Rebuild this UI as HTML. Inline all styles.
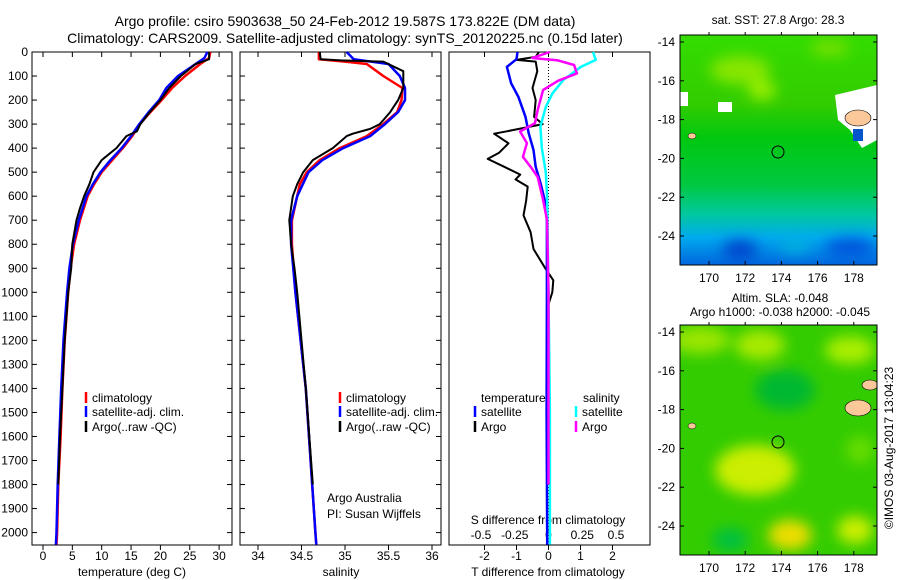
<!DOCTYPE html>
<html><head><meta charset="utf-8"><style>
body{margin:0;background:#fff;}
svg{display:block;font-family:"Liberation Sans",sans-serif;}
</style></head><body>
<svg id="chart" width="900" height="580" viewBox="0 0 900 580" xmlns="http://www.w3.org/2000/svg">
<defs>
<filter id="blur1" x="-50%" y="-50%" width="200%" height="200%"><feGaussianBlur stdDeviation="7"/></filter>
<clipPath id="clipMap1"><rect x="680" y="35" width="197" height="230"/></clipPath>
<clipPath id="clipMap2"><rect x="680" y="325" width="197" height="230"/></clipPath>
<linearGradient id="sstGrad" x1="0" y1="0" x2="0" y2="1">
<stop offset="0" stop-color="#33dd00"/><stop offset="0.3" stop-color="#33cc00"/>
<stop offset="0.45" stop-color="#00c810"/><stop offset="0.65" stop-color="#00c840"/>
<stop offset="0.78" stop-color="#00c8a0"/><stop offset="0.88" stop-color="#00aaee"/>
<stop offset="1" stop-color="#0066dd"/></linearGradient>
</defs>
<text x="345" y="26" text-anchor="middle" font-size="14">Argo profile: csiro 5903638_50 24-Feb-2012 19.587S 173.822E (DM data)</text>
<text x="345" y="43" text-anchor="middle" font-size="14">Climatology: CARS2009. Satellite-adjusted climatology: synTS_20120225.nc (0.15d later)</text>
<g id="plots"></g>
<g>
<text x="778" y="24" text-anchor="middle" font-size="12">sat. SST: 27.8 Argo: 28.3</text>
<g clip-path="url(#clipMap1)">
<rect x="680" y="35" width="197" height="230" fill="url(#sstGrad)"/>
<g filter="url(#blur1)">
<ellipse cx="740" cy="70" rx="30" ry="14" fill="#88e600"/>
<ellipse cx="762" cy="90" rx="14" ry="10" fill="#99ee00"/>
<ellipse cx="830" cy="48" rx="20" ry="8" fill="#77e000"/>
<ellipse cx="740" cy="250" rx="18" ry="10" fill="#0044cc"/>
<ellipse cx="850" cy="248" rx="25" ry="10" fill="#0055dd"/>
<ellipse cx="795" cy="245" rx="15" ry="8" fill="#00b0dd"/>
</g>
<rect x="680" y="92" width="8" height="14" fill="#fff"/>
<rect x="718" y="102" width="14" height="10" fill="#fff"/>
<path d="M835 95 L877 85 L877 140 L862 148 L850 130 L838 120 Z" fill="#fff"/>
<ellipse cx="858" cy="118" rx="13" ry="8" fill="#fbc89a" stroke="#000" stroke-width="0.6"/>
<rect x="853" y="129" width="10" height="12" fill="#0055cc"/>
<ellipse cx="692" cy="136" rx="4" ry="3" fill="#fbc89a" stroke="#000" stroke-width="0.5"/>
<circle cx="778" cy="152" r="6" fill="none" stroke="#000" stroke-width="1"/>
</g>
<rect x="680" y="35" width="197" height="230" fill="none" stroke="#000" stroke-width="1"/>
</g>
<g>
<text x="780" y="302" text-anchor="middle" font-size="12">Altim. SLA: -0.048</text>
<text x="780" y="316" text-anchor="middle" font-size="12">Argo h1000: -0.038 h2000: -0.045</text>
<g clip-path="url(#clipMap2)">
<rect x="680" y="325" width="197" height="230" fill="#33cc00"/>
<g filter="url(#blur1)">
<ellipse cx="700" cy="340" rx="30" ry="14" fill="#99e600"/>
<ellipse cx="760" cy="345" rx="25" ry="15" fill="#a8ea00"/>
<ellipse cx="850" cy="350" rx="25" ry="14" fill="#aaee00"/>
<ellipse cx="785" cy="390" rx="30" ry="20" fill="#00b830"/>
<ellipse cx="755" cy="470" rx="40" ry="25" fill="#ccee00"/>
<ellipse cx="790" cy="535" rx="22" ry="15" fill="#eedd00"/>
<ellipse cx="730" cy="540" rx="18" ry="12" fill="#00c040"/>
<ellipse cx="855" cy="530" rx="18" ry="14" fill="#ccee00"/>
<ellipse cx="860" cy="450" rx="14" ry="14" fill="#66dd00"/>
</g>
<ellipse cx="858" cy="408" rx="13" ry="8" fill="#fbc89a" stroke="#000" stroke-width="0.6"/>
<ellipse cx="870" cy="385" rx="8" ry="5" fill="#fbc89a" stroke="#000" stroke-width="0.6"/>
<ellipse cx="692" cy="426" rx="4" ry="3" fill="#fbc89a" stroke="#000" stroke-width="0.5"/>
<circle cx="778" cy="442" r="6" fill="none" stroke="#000" stroke-width="1"/>
</g>
<rect x="680" y="325" width="197" height="230" fill="none" stroke="#000" stroke-width="1"/>
</g>
<g id="maps-axes"></g>
<text transform="translate(893,448) rotate(-90)" text-anchor="middle" font-size="12">©IMOS 03-Aug-2017 13:04:23</text>
</svg>
<script>
const NS="http://www.w3.org/2000/svg";
const depthTicks=[0,100,200,300,400,500,600,700,800,900,1000,1100,1200,1300,1400,1500,1600,1700,1800,1900,2000];
const tempTicks=[0,5,10,15,20,25,30];
const salTicks=[34,34.5,35,35.5,36];
const tdiffTicks=[-2,-1,0,1,2];
const sdiffTicks=[-0.5,-0.25,0,0.25,0.5];
const lonTicks=[170,172,174,176,178];
const latTicks=[-14,-16,-18,-20,-22,-24];

const tClimDepth=[0,25,50,100,150,200,250,300,350,400,450,500,550,600,700,800,900,1000,1200,1400,1600,1800,2000,2050];
const tClim=[28.5,28.3,26.8,24.2,22,20.2,18.3,16.5,15.2,13.6,11.8,10,8.7,7.6,6.3,5.3,4.7,4.3,3.7,3.3,3.0,2.6,2.4,2.3];
const tSatDepth=[0,25,50,100,150,200,250,300,350,400,450,500,550,600,700,800,900,1000,1200,1400,1600,1800,2000,2050];
const tSat=[28,27.5,26,23,21,19.8,18,16.4,15,13.4,11.5,9.8,8.5,7.4,6.1,5.1,4.5,4.1,3.5,3.1,2.8,2.5,2.3,2.2];
const tArgoDepth=[0,30,50,100,150,200,250,300,330,350,400,440,450,500,550,600,650,700,800,900,1000,1200,1400,1600,1800];
const tArgo=[28.3,28.3,26,23.5,21.5,20,18.2,16.6,16,14.2,12.5,10.5,10,8.6,7.9,7,6.3,5.7,5,4.8,4.3,3.7,3.3,2.9,2.6];

const sClimDepth=[0,30,40,50,100,150,200,250,300,350,400,450,500,550,600,700,800,1000,1400,2000,2050];
const sClim=[34.7,34.7,35.0,35.25,35.44,35.66,35.65,35.6,35.44,35.25,34.94,34.71,34.56,34.48,34.45,34.39,34.39,34.43,34.55,34.66,34.67];
const sSatDepth=[0,30,50,100,150,200,250,300,350,400,450,500,600,700,800,1000,1400,2000,2050];
const sSat=[35.02,35.1,35.5,35.63,35.69,35.69,35.61,35.46,35.29,34.98,34.74,34.58,34.45,34.38,34.38,34.43,34.55,34.66,34.67];
const sArgoDepth=[0,30,35,40,80,100,150,200,250,300,320,340,350,400,450,500,550,600,700,800,900,1000,1400,1800];
const sArgo=[34.71,34.72,34.95,35.44,35.67,35.67,35.67,35.61,35.52,35.4,35.29,35.09,35.02,34.86,34.63,34.52,34.45,34.4,34.36,34.38,34.42,34.45,34.55,34.63];

const dtSatDepth=[0,30,62,130,187,270,338,408,478,545,616,700,1000,1500,2050];
const dtSat=[-0.97,-1.0,-1.3,-1.17,-0.94,-0.72,-0.62,-0.47,-0.4,-0.25,-0.12,-0.05,-0.05,-0.06,-0.04];
const dtArgoDepth=[0,20,33,40,80,150,200,270,300,330,340,380,420,445,480,510,530,560,620,680,750,820,900,950,1000,1050,1500,1800];
const dtArgo=[-0.3,-0.4,-1.0,-0.4,-0.35,-0.5,-0.4,-0.45,-0.18,-1.3,-1.7,-1.25,-1.55,-1.9,-1.35,-0.88,-1.03,-0.65,-0.7,-0.78,-0.56,-0.47,-0.1,0.15,0.12,0,-0.02,0];
const dsSatDepth=[0,33,62,116,172,228,310,400,500,600,1000,1500,2050];
const dsSat=[0.33,0.35,0.24,0.11,0.03,-0.02,-0.06,-0.05,-0.02,-0.01,0,0.01,0.01];
const dsArgoDepth=[0,25,35,54,89,120,158,241,296,331,379,436,480,520,616,700,1000,1500,1800];
const dsArgo=[0.01,-0.12,0.07,0.19,0.21,0.07,-0.04,-0.08,-0.1,-0.21,-0.16,-0.19,-0.13,-0.08,-0.04,-0.01,0,0,0];

const yTop=52,yBot=545;
const yD=d=>yTop+d*0.2403;
const xT=t=>43+t*5.87;
const xS=s=>258+(s-34)*87;
const xDT=d=>548.5+d*32;
const xDS=d=>548.5+d*135;
const xLon=l=>709+(l-170)*18.1;
const yLat1=l=>42+(-14-l)*19.4;
const yLat2=l=>332+(-14-l)*19.4;

const root=document.getElementById('plots');
function el(tag,attrs,parent){const e=document.createElementNS(NS,tag);for(const k in attrs)e.setAttribute(k,attrs[k]);(parent||root).appendChild(e);return e;}
function txt(x,y,s,anchor,size,parent){const t=el('text',{x:x,y:y,'text-anchor':anchor||'middle','font-size':size||12},parent);t.textContent=s;return t;}

function panel(x0,x1,name){
  const r=el('rect',{x:x0,y:yTop,width:x1-x0,height:yBot-yTop,fill:'none',stroke:'#000','stroke-width':1});
  
  
}
function line(depths,vals,xf,color,w,name){
  let d='';
  for(let i=0;i<depths.length;i++){d+=(i?'L':'M')+xf(vals[i]).toFixed(1)+' '+yD(depths[i]).toFixed(1);}
  const p=el('path',{d:d,fill:'none',stroke:color,'stroke-width':w,'stroke-linejoin':'round'});
  
  
}

panel(32,232,'temperature-panel');
panel(240,441,'salinity-panel');
panel(449,650,'difference-panel');

depthTicks.forEach(d=>{
  const y=yD(d);
  const t=txt(28,y+4,String(d),'end',12);
  
  
  [[32,37],[227,232],[240,245],[436,441]].forEach(([a,b])=>el('line',{x1:a,x2:b,y1:y,y2:y,stroke:'#000'}));
});
tempTicks.forEach(v=>{
  const x=xT(v);
  el('line',{x1:x,x2:x,y1:yBot,y2:yBot+5,stroke:'#000'});
  el('line',{x1:x,x2:x,y1:yTop,y2:yTop+5,stroke:'#000'});
  const t=txt(x,yBot+15,String(v));
  
  
});
salTicks.forEach(v=>{
  const x=xS(v);
  el('line',{x1:x,x2:x,y1:yBot,y2:yBot+5,stroke:'#000'});
  el('line',{x1:x,x2:x,y1:yTop,y2:yTop+5,stroke:'#000'});
  const t=txt(x,yBot+15,String(v));
  
  
});
tdiffTicks.forEach(v=>{
  const x=xDT(v);
  el('line',{x1:x,x2:x,y1:yBot,y2:yBot+5,stroke:'#000'});
  const t=txt(x,yBot+15,String(v));
  
  
});
[-2,0,2].forEach(v=>{const x=xDT(v);el('line',{x1:x,x2:x,y1:yTop,y2:yTop+5,stroke:'#000'});});
sdiffTicks.forEach(v=>{
  const x=xDS(v);
  const t=txt(x,yBot-6,String(v));
  
  
});
let a;
a=txt(132,576,'temperature (deg C)');
a=txt(341,576,'salinity');
a=txt(548,576,'T difference from climatology');
a=txt(548,524,'S difference from climatology');
a=txt(327,502,'Argo Australia','start');
a=txt(327,518,'PI: Susan Wijffels','start');

el('line',{x1:548.5,x2:548.5,y1:yTop,y2:yBot,stroke:'#000','stroke-dasharray':'1 2'});

line(tClimDepth,tClim,xT,'#ff0000',2.5,'temp-climatology-line');
line(tSatDepth,tSat,xT,'#0000ff',2.5,'temp-satellite-line');
line(tArgoDepth,tArgo,xT,'#000000',2,'temp-argo-line');
line(sClimDepth,sClim,xS,'#ff0000',2.5,'sal-climatology-line');
line(sSatDepth,sSat,xS,'#0000ff',2.5,'sal-satellite-line');
line(sArgoDepth,sArgo,xS,'#000000',2,'sal-argo-line');
line(dtArgoDepth,dtArgo,xDT,'#000000',2,'tdiff-argo-line');
line(dtSatDepth,dtSat,xDT,'#0000ff',2.5,'tdiff-satellite-line');
line(dsSatDepth,dsSat,xDS,'#00ffff',2.5,'sdiff-satellite-line');
line(dsArgoDepth,dsArgo,xDS,'#ff00ff',2.5,'sdiff-argo-line');

function legendEntry(x,y,color,label,name){
  el('line',{x1:x,x2:x,y1:y-10,y2:y+1,stroke:color,'stroke-width':2.5});
  const t=txt(x+6,y,label,'start');
  
  
}
legendEntry(86,402,'#ff0000','climatology','legend-entry-climatology');
legendEntry(86,416,'#0000ff','satellite-adj. clim.','legend-entry-satellite');
legendEntry(86,431,'#000000','Argo(..raw -QC)','legend-entry-argo');
legendEntry(340,402,'#ff0000','climatology','legend-entry-climatology-sal');
legendEntry(340,416,'#0000ff','satellite-adj. clim.','legend-entry-satellite-sal');
legendEntry(340,431,'#000000','Argo(..raw -QC)','legend-entry-argo-sal');
a=txt(481,402,'temperature','start');
a=txt(583,402,'salinity','start');
legendEntry(475,416,'#0000ff','satellite','legend-entry-t-satellite');
legendEntry(475,431,'#000000','Argo','legend-entry-t-argo');
legendEntry(576,416,'#00ffff','satellite','legend-entry-s-satellite');
legendEntry(576,431,'#ff00ff','Argo','legend-entry-s-argo');

const mg=document.getElementById('maps-axes');
[[yLat1,265,35],[yLat2,555,325]].forEach(([yf,yb,yt])=>{
  latTicks.forEach(l=>{
    const y=yf(l);
    el('line',{x1:680,x2:684,y1:y,y2:y,stroke:'#000'},mg);
    el('line',{x1:873,x2:877,y1:y,y2:y,stroke:'#000'},mg);
    const t=txt(675,y+4,String(l),'end',12,mg);
    
    
  });
  lonTicks.forEach(l=>{
    const x=xLon(l);
    el('line',{x1:x,x2:x,y1:yb,y2:yb-4,stroke:'#000'},mg);
    el('line',{x1:x,x2:x,y1:yt,y2:yt-3,stroke:'#000'},mg);
    const t=txt(x,yb+17,String(l),'middle',12,mg);
    
    
  });
});
</script>
</body></html>
